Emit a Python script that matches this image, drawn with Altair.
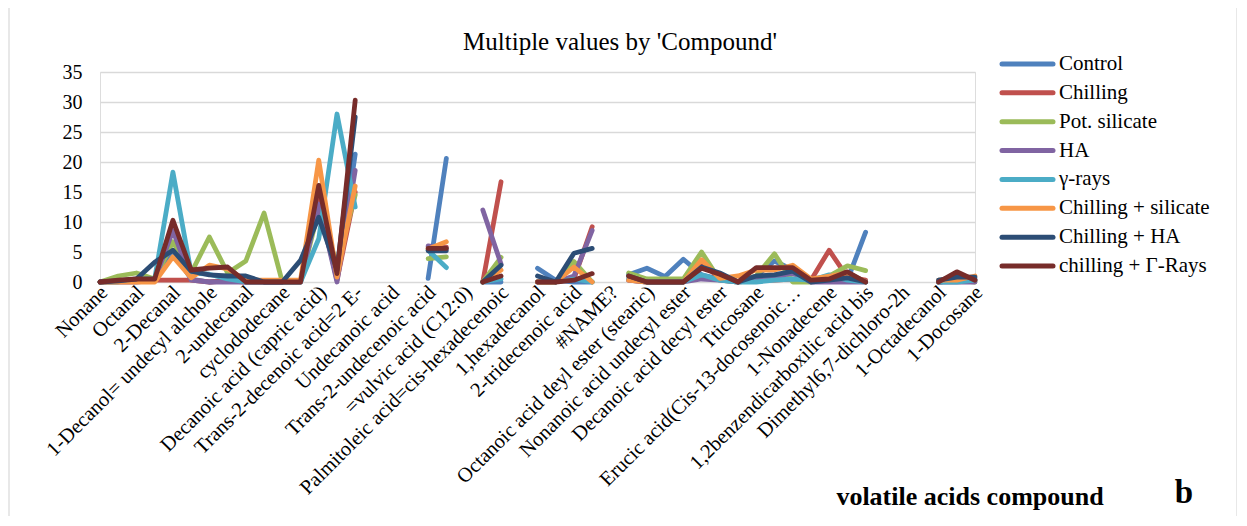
import json
import pandas as pd
import altair as alt

# Tick labels shown on the category axis (every other compound is labelled)
labels = [
    "Nonane", "Octanal", "2-Decanal", "1-Decanol= undecyl alchole", "2-undecanal",
    "cyclododecane", "Decanoic acid (capric acid)", "Trans-2-decenoic acid=2 E-",
    "Undecanoic acid", "Trans-2-undecenoic acid", "=vulvic acid (C12:0)",
    "Palmitoleic acid=cis-hexadecenoic", "1,hexadecanol", "2-tridecenoic acid", "#NAME?",
    "Octanoic acid deyl ester (stearic)", "Nonanoic acid undecyl ester",
    "Decanoic acid decyl ester", "Tticosane", "Erucic acid(Cis-13-docosenoic…",
    "1-Nonadecene", "1,2benzendicarboxilic acid bis", "Dimethyl6,7-dichloro-2h",
    "1-Octadecanol", "1-Docosane",
]

series = ["Control", "Chilling", "Pot. silicate", "HA", "γ-rays",
          "Chilling + silicate", "Chilling + HA", " chilling + Γ-Rays"]
colors = ["#4F81BD", "#C0504D", "#9BBB59", "#8064A2", "#4BACC6",
          "#F79646", "#2C4D75", "#772C2A"]

N = None
control = [0, 0.2, 0.3, 0.3, 5, 0.5, 0, 0.3, 0.2, 0, 0, 0, 13, 0.5, 21.3,
           N, N, N, 0.6, 20.6, N, 0, 0, N, 2.3, 0.3, 0, 0, N,
           1.2, 2.3, 0.9, 3.8, 1.2, 0.5, 0, 1, 3.5, 2.0, 0.5, 0.8, 0.3, 8.3,
           N, N, N, 0, 0.3, 0.5]
chilling = [0, 0.2, 0.2, 0.3, 0.3, 0.3, 0, 0.2, 0, 0, 0, 0, 14, 0.3, 15,
            N, N, N, 5.8, 5.8, N, 0, 16.7, N, 0, 0, 0.5, 9.2, N,
            0.3, 0, 0, 0, 3.4, 0.5, 0, 0.3, 0.3, 0.5, 0.3, 5.3, 0.8, 0.3,
            N, N, N, 0, 0.3, 0.3]
pot_silicate = [0, 1.0, 1.5, 0.5, 6.7, 1.5, 7.5, 1.5, 3.5, 11.5, 0, 0, 12, 3, 14.5,
                N, N, N, 3.9, 4.2, N, 0, 4.1, N, 0, 0, 3.4, 0, N,
                1.5, 0.5, 0.5, 0.5, 5.0, 0.3, 0, 1, 4.7, 0, 0, 1, 2.7, 1.9,
                N, N, N, 0, 0.3, 0]
ha = [0, 0, 0, 0.3, 8.6, 0.3, 0, 0, 0, 0, 0, 0, 13, 0, 18.6,
      N, N, N, 6, 5.6, N, 12, 3.0, N, 0, 0, 1, 8.6, N,
      0.3, 0, 0, 0, 0.5, 0.3, 0, 0.5, 0.8, 1.5, 0, 0, 0, 0,
      N, N, N, 0, 0, 0]
g_rays = [0, 0, 0.5, 0.5, 18.3, 1.5, 1.3, 0.5, 0, 0, 0, 0, 7.2, 28, 12.5,
          N, N, N, 5.3, 2.4, N, 0, 0.5, N, 0, 0, 0.5, 0, N,
          0.5, 0, 0, 0, 1.2, 0.3, 0, 0, 0.3, 0.5, 0.3, 1.2, 0.3, 0,
          N, N, N, 0, 0, 0.3]
chilling_silicate = [0, 0, 0, 0, 4.2, 0.7, 2.8, 2.2, 0.3, 0.3, 0.3, 0.3, 20.3, 0.8, 16,
                     N, N, N, 5.5, 6.7, N, 0, 2.0, N, 0, 0, 2.5, 0, N,
                     0.3, 0, 0, 0, 3.7, 0.6, 1, 2, 2, 2.8, 0.5, 1, 1.5, 0,
                     N, N, N, 0.3, 0.3, 1.0]
chilling_ha = [0, 0.2, 0.5, 3.3, 5.3, 1.8, 1.2, 1.0, 1.0, 0, 0, 3.6, 10.8, 2, 27.5,
               N, N, N, 5.2, 5.2, N, 0, 2.8, N, 1.0, 0, 4.8, 5.6, N,
               1, 0, 0, 0, 2.5, 1.5, 0, 1, 1.2, 1.8, 0, 0.3, 0.7, 0,
               N, N, N, 0.3, 0.8, 0.8]
chilling_grays = [0, 0.3, 0.5, 0.5, 10.3, 2.0, 2.3, 2.5, 0, 0, 0, 0, 16.1, 1.4, 30.3,
                  N, N, N, 5.6, 5.6, N, 0, 1.0, N, 0, 0, 0.3, 1.4, N,
                  1.0, 0, 0, 0, 2.3, 1.3, 0, 2.4, 2.4, 2.4, 0.3, 0.5, 1.7, 0,
                  N, N, N, 0, 1.7, 0.3]
values = [control, chilling, pot_silicate, ha, g_rays,
          chilling_silicate, chilling_ha, chilling_grays]

FONT = "Liberation Serif"
W, H = 875, 210

x_scale = alt.Scale(domain=[0, 48], nice=False, zero=False)
y_scale = alt.Scale(domain=[0, 35], nice=False)
x_axis = alt.Axis(
    values=list(range(0, 49, 2)), grid=False, domain=False, ticks=False,
    labelAngle=-45, labelAlign="right", labelBaseline="middle",
    labelFont=FONT, labelFontSize=20.5, labelColor="black", labelPadding=7,
    labelOffset=4, labelLimit=500, labelOverlap=False, labelFlush=False,
    title=None, labelExpr=json.dumps(labels) + "[round(datum.value/2)]",
)
y_axis = alt.Axis(
    values=list(range(0, 36, 5)), grid=True, gridColor="#D9D9D9", gridWidth=1.5,
    domain=False, ticks=False, labelFont=FONT, labelFontSize=20,
    labelColor="black", labelPadding=18, title=None,
)

line_layers = []
for name, vals, col in zip(series, values, colors):
    df = pd.DataFrame({"idx": list(range(len(vals))),
                       "value": pd.array(vals, dtype="Float64").astype(float)})
    line_layers.append(
        alt.Chart(df).mark_line(
            color=col, strokeWidth=4.8, strokeCap="round", strokeJoin="round",
            invalid="break-paths-show-domains",
        ).encode(
            x=alt.X("idx:Q", scale=x_scale, axis=x_axis),
            y=alt.Y("value:Q", scale=y_scale, axis=y_axis),
        )
    )
lines = alt.layer(*line_layers)

leg_df = pd.DataFrame({"series": series, "color": colors})
leg_y = alt.Y("series:N", sort=series,
              scale=alt.Scale(type="point", domain=series, range=[-8, 194], padding=0),
              axis=None)
leg_rules = alt.Chart(leg_df).mark_rule(strokeWidth=5, strokeCap="round").encode(
    x=alt.value(902), x2=alt.value(953), y=leg_y,
    color=alt.Color("color:N", scale=None, legend=None),
)
leg_text = alt.Chart(leg_df).mark_text(
    align="left", baseline="middle", font=FONT, fontSize=21, color="black"
).encode(x=alt.value(959), y=leg_y, text="series:N")

title = alt.Chart(pd.DataFrame({"t": ["Multiple values by 'Compound'"]})).mark_text(
    font=FONT, fontSize=25, color="black", align="center", baseline="middle"
).encode(x=alt.value(520), y=alt.value(-30), text="t:N")
xtitle = alt.Chart(pd.DataFrame({"t": ["volatile acids compound"]})).mark_text(
    font=FONT, fontSize=26, fontWeight="bold", color="black", align="center", baseline="middle"
).encode(x=alt.value(870), y=alt.value(425), text="t:N")
panel = alt.Chart(pd.DataFrame({"t": ["b"]})).mark_text(
    font=FONT, fontSize=33, fontWeight="bold", color="black", align="center", baseline="middle"
).encode(x=alt.value(1084), y=alt.value(421), text="t:N")
border = alt.Chart(pd.DataFrame({"t": [1]})).mark_rect(
    fillOpacity=0, stroke="#D9D9D9", strokeWidth=1.2
).encode(x=alt.value(-91), x2=alt.value(1137), y=alt.value(-90), y2=alt.value(480))

extras = alt.layer(border, leg_rules, leg_text, title, xtitle, panel)

chart = alt.layer(lines, extras).resolve_scale(y="independent").properties(
    width=W, height=H,
    autosize=alt.AutoSizeParams(type="none"),
    padding={"left": 92, "top": 64, "right": 262, "bottom": 234},
).configure_view(stroke=None).configure(background="white")

chart.save("out.html", embed_options={"renderer": "svg", "actions": False})
